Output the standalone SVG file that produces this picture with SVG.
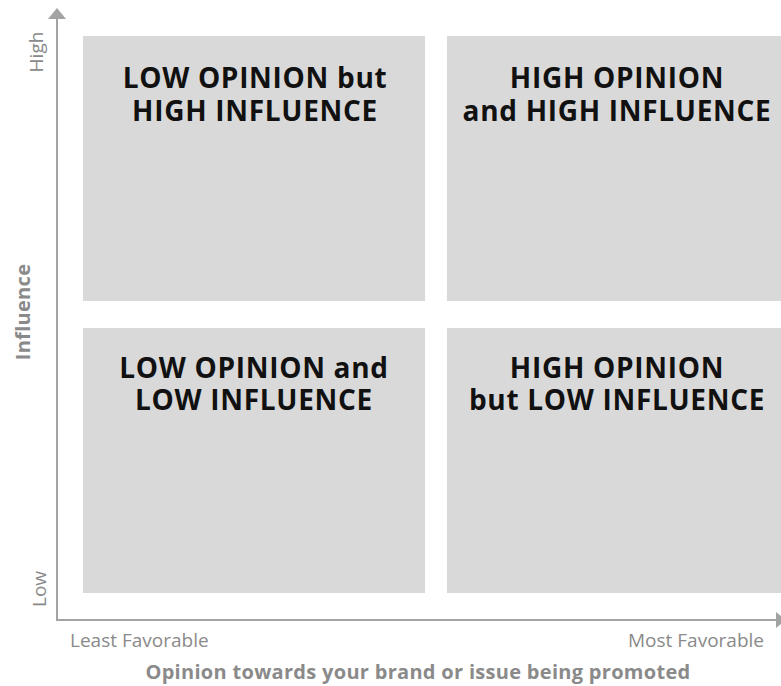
<svg xmlns="http://www.w3.org/2000/svg" width="781" height="686" viewBox="0 0 781 686">
  <style>
    .quad { fill: #d9d9d9; }
    .title { font-family: "Open Sans", "Liberation Sans", sans-serif; font-weight: 700; font-size: 28px; fill: #111111; text-anchor: middle; letter-spacing: 0.7px; }
    .axis { stroke: #a3a3a3; stroke-width: 2; fill: none; }
    .tick { font-family: "Open Sans", "Liberation Sans", sans-serif; font-size: 19px; fill: #8a8a8a; }
    .axis-title { font-family: "Open Sans", "Liberation Sans", sans-serif; font-weight: 700; font-size: 20px; fill: #8a8a8a; text-anchor: middle; letter-spacing: 0.3px; }
  </style>

  <rect width="781" height="686" fill="#ffffff"/>

  <g id="q-low-opinion-high-influence">
    <rect class="quad" x="83" y="36" width="342" height="265"/>
    <text class="title" x="255" y="88">LOW OPINION but</text>
    <text class="title" x="255" y="121">HIGH INFLUENCE</text>
  </g>
  <g id="q-high-opinion-high-influence">
    <rect class="quad" x="447" y="36" width="340" height="265"/>
    <text class="title" x="617" y="88">HIGH OPINION</text>
    <text class="title" x="617" y="121">and HIGH INFLUENCE</text>
  </g>
  <g id="q-low-opinion-low-influence">
    <rect class="quad" x="83" y="328" width="342" height="265"/>
    <text class="title" x="254" y="378">LOW OPINION and</text>
    <text class="title" x="254" y="410">LOW INFLUENCE</text>
  </g>
  <g id="q-high-opinion-low-influence">
    <rect class="quad" x="447" y="328" width="340" height="265"/>
    <text class="title" x="617" y="378">HIGH OPINION</text>
    <text class="title" x="617" y="410">but LOW INFLUENCE</text>
  </g>

  <g id="axes">
    <path class="axis" d="M57,621 L57,16"/>
    <path d="M48,19 L57,8 L66,19 Z" fill="#a3a3a3"/>
    <path class="axis" d="M56,620 L778,620"/>
    <path d="M776,612 L786,620 L776,628 Z" fill="#a3a3a3"/>
  </g>

  <g id="axis-labels">
    <text class="tick" transform="translate(43,52) rotate(-90)" text-anchor="middle">High</text>
    <text class="tick" transform="translate(46,589) rotate(-90)" text-anchor="middle">Low</text>
    <text class="axis-title" transform="translate(30,312) rotate(-90)">Influence</text>
    <text class="tick" x="70" y="647">Least Favorable</text>
    <text class="tick" x="764" y="647" text-anchor="end">Most Favorable</text>
    <text class="axis-title" x="418" y="679">Opinion towards your brand or issue being promoted</text>
  </g>
</svg>
